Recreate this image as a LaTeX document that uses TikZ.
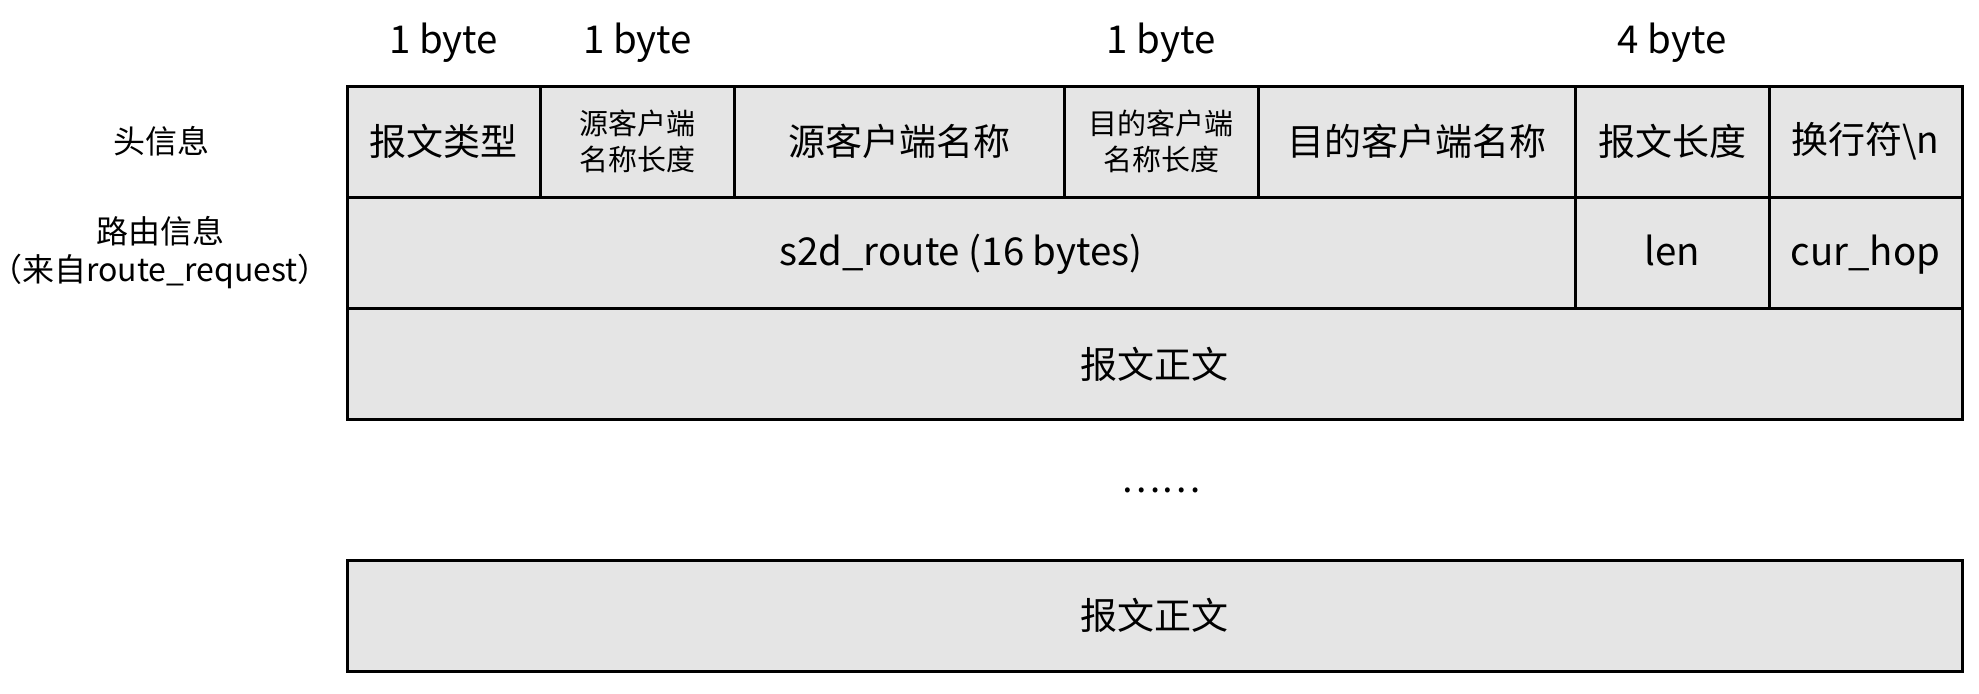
\documentclass[tikz,border=0pt]{standalone}
\usepackage{fontspec}
\setmainfont{Noto Sans CJK SC}
\usepackage{tikz}

\tikzset{
  field/.style={draw, fill=black!10, line width=1.5pt, inner sep=0pt, minimum height=55.5pt, font=\fontsize{18.5}{22}\selectfont},
  smallfield/.style={field, align=center, font=\fontsize{14.5}{18.3}\selectfont},
  latinfield/.style={field, text height=16.5pt, text depth=4pt, font=\fontsize{19.2}{23}\selectfont},
  bytelabel/.style={anchor=base, font=\fontsize{19.2}{23}\selectfont},
  rowlabel/.style={align=center, inner sep=0pt, font=\fontsize{16}{19}\selectfont},
}

\begin{document}
\begin{tikzpicture}[x=0.5pt, y=-0.5pt]
		%%%%% START %%%%%
		\useasboundingbox (0, 0) rectangle (1979, 693);
		
		% head row
		\node[field, minimum width=96.75pt] (type) at (443.75, 141.5) {报文类型};
		\node[smallfield, minimum width=97pt] (srclen) at (637.5, 141.5) {源客户端\\名称长度};
		\node[field, minimum width=164.75pt] (srcname) at (899.25, 141.5) {源客户端名称};
		\node[smallfield, minimum width=97pt] (dstlen) at (1161, 141.5) {目的客户端\\名称长度};
		\node[field, minimum width=158.5pt] (dstname) at (1416.5, 141.5) {目的客户端名称};
		\node[field, minimum width=97pt] (msglen) at (1672, 141.5) {报文长度};
		\node[field, minimum width=96.5pt] (newline) at (1865.5, 141.5) {换行符\textbackslash n};
		
		% route row
		\node[latinfield, minimum width=614pt] (route) at (961, 252.5) {s2d\_route (16 bytes)};
		\node[latinfield, minimum width=97pt] (len) at (1672, 252.5) {len};
		\node[latinfield, minimum width=96.5pt] (hop) at (1865.5, 252.5) {cur\_hop};
		
		% body
		\node[field, minimum width=807.5pt] (body) at (1154.5, 364) {报文正文};
		\node[font=\fontsize{18.5}{22}\selectfont] (dots) at (1161, 490) {……};
		\node[field, minimum width=807.5pt] (lastbody) at (1154.5, 615.5) {报文正文};
		
		% sizes
		\node[bytelabel] (b1) at ([yshift=15.75pt]type.north) {1 byte};
		\node[bytelabel] (b2) at ([yshift=15.75pt]srclen.north) {1 byte};
		\node[bytelabel] (b3) at ([yshift=15.75pt]dstlen.north) {1 byte};
		\node[bytelabel] (b4) at ([yshift=15.75pt]msglen.north) {4 byte};
		
		% row names
		\node[rowlabel] (headinfo) at (161, 141.5) {头信息};
		\node[rowlabel] (routeinfo) at (160, 252.5) {路由信息\\（来自route\_request）};
		%%%%% END %%%%%
	\end{tikzpicture}
\end{document}
